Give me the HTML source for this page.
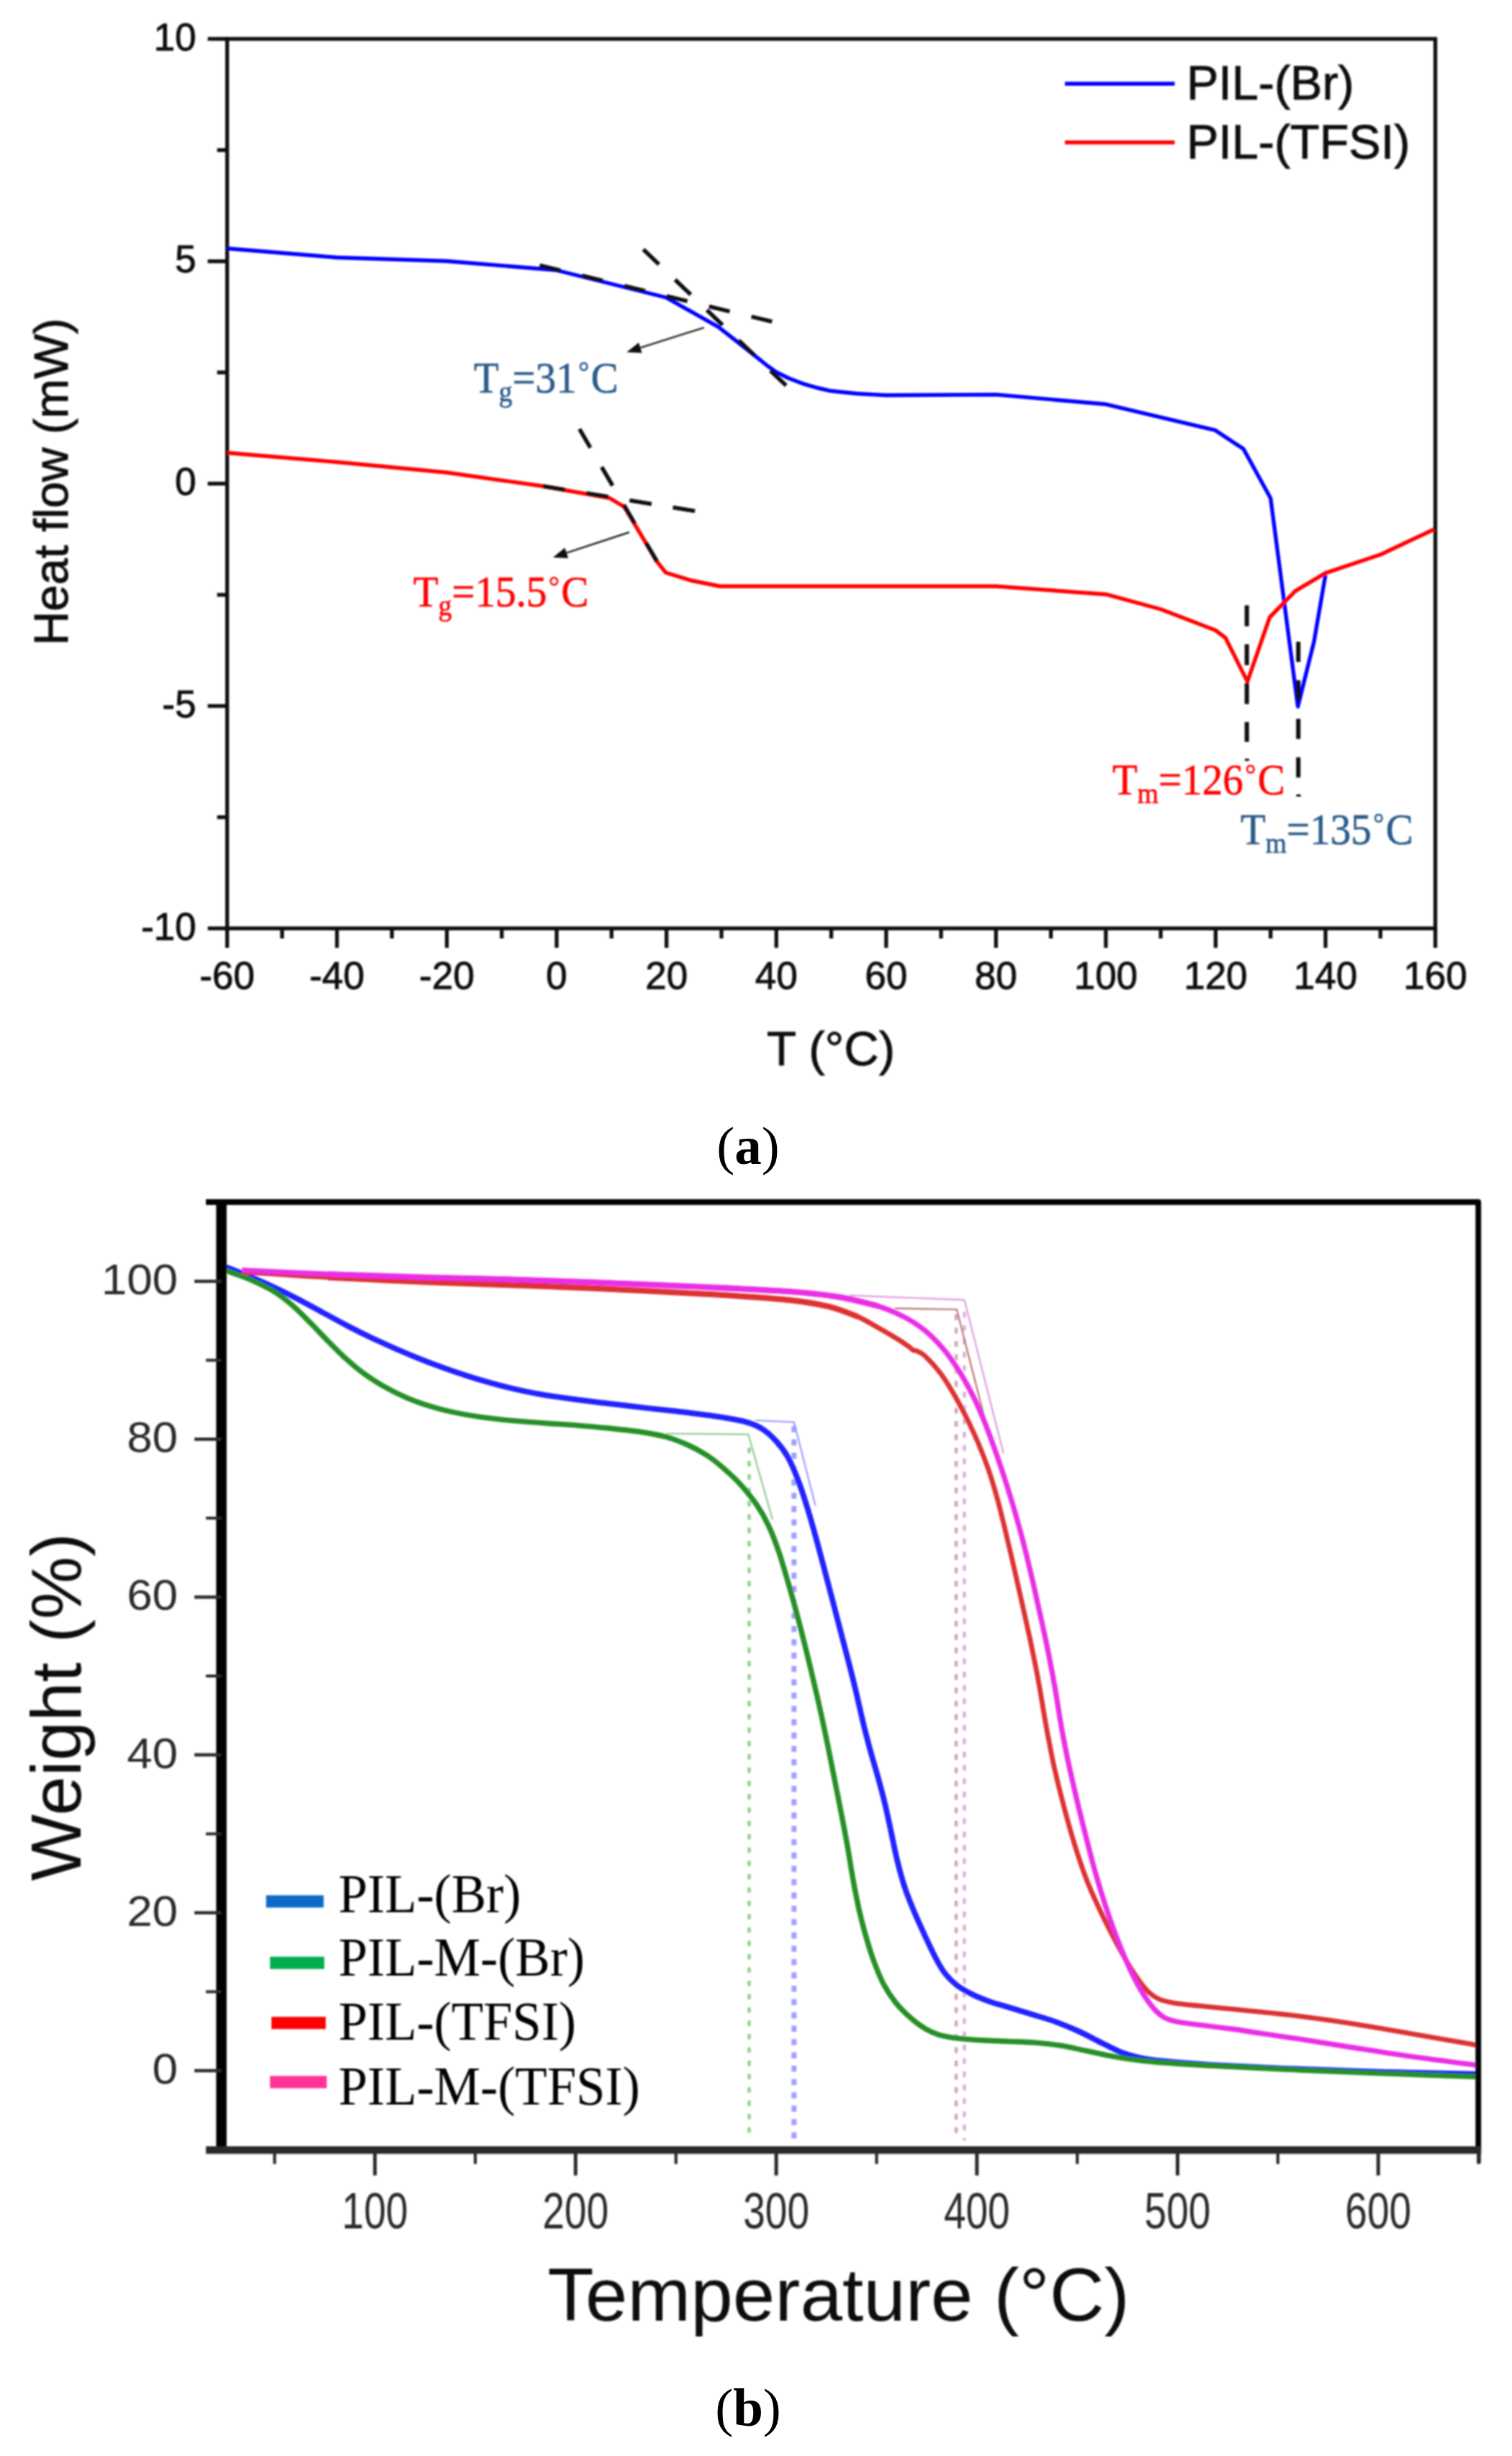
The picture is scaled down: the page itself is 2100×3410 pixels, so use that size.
<!DOCTYPE html>
<html lang="en"><head><meta charset="utf-8"><title>DSC and TGA curves</title>
<style>
html,body{margin:0;padding:0;background:#fff;}
body{width:2100px;height:3410px;overflow:hidden;}
svg{display:block;}
#chart-a text.s{stroke:#111;stroke-width:0.9px;}
</style></head><body>
<svg width="2100" height="3410" viewBox="0 0 2100 3410">
<rect x="0" y="0" width="2100" height="3410" fill="#fff"/>

<defs><filter id="softa" x="-2%" y="-2%" width="104%" height="104%"><feGaussianBlur stdDeviation="1.15"/></filter></defs>
<g id="chart-a" filter="url(#softa)">
<rect x="315.5" y="54" width="1678.0" height="1235" fill="none" stroke="#111" stroke-width="5.3"/>
<line x1="288.5" y1="1289.0" x2="315.5" y2="1289.0" stroke="#111" stroke-width="5.3"/>
<text x="272.5" y="1304.5" font-family="'Liberation Sans', Arial, sans-serif" font-size="53" fill="#111" text-anchor="end" class="s">-10</text>
<line x1="288.5" y1="980.2" x2="315.5" y2="980.2" stroke="#111" stroke-width="5.3"/>
<text x="272.5" y="995.8" font-family="'Liberation Sans', Arial, sans-serif" font-size="53" fill="#111" text-anchor="end" class="s">-5</text>
<line x1="288.5" y1="671.5" x2="315.5" y2="671.5" stroke="#111" stroke-width="5.3"/>
<text x="272.5" y="687.0" font-family="'Liberation Sans', Arial, sans-serif" font-size="53" fill="#111" text-anchor="end" class="s">0</text>
<line x1="288.5" y1="362.8" x2="315.5" y2="362.8" stroke="#111" stroke-width="5.3"/>
<text x="272.5" y="378.2" font-family="'Liberation Sans', Arial, sans-serif" font-size="53" fill="#111" text-anchor="end" class="s">5</text>
<line x1="288.5" y1="54.0" x2="315.5" y2="54.0" stroke="#111" stroke-width="5.3"/>
<text x="272.5" y="69.5" font-family="'Liberation Sans', Arial, sans-serif" font-size="53" fill="#111" text-anchor="end" class="s">10</text>
<line x1="301.5" y1="208.4" x2="315.5" y2="208.4" stroke="#111" stroke-width="5.3"/>
<line x1="301.5" y1="517.1" x2="315.5" y2="517.1" stroke="#111" stroke-width="5.3"/>
<line x1="301.5" y1="825.9" x2="315.5" y2="825.9" stroke="#111" stroke-width="5.3"/>
<line x1="301.5" y1="1134.6" x2="315.5" y2="1134.6" stroke="#111" stroke-width="5.3"/>
<line x1="315.5" y1="1289" x2="315.5" y2="1316" stroke="#111" stroke-width="5.3"/>
<text x="315.5" y="1373" font-family="'Liberation Sans', Arial, sans-serif" font-size="53" fill="#111" text-anchor="middle" class="s">-60</text>
<line x1="391.8" y1="1289" x2="391.8" y2="1303" stroke="#111" stroke-width="5.3"/>
<line x1="468.0" y1="1289" x2="468.0" y2="1316" stroke="#111" stroke-width="5.3"/>
<text x="468.0" y="1373" font-family="'Liberation Sans', Arial, sans-serif" font-size="53" fill="#111" text-anchor="middle" class="s">-40</text>
<line x1="544.3" y1="1289" x2="544.3" y2="1303" stroke="#111" stroke-width="5.3"/>
<line x1="620.6" y1="1289" x2="620.6" y2="1316" stroke="#111" stroke-width="5.3"/>
<text x="620.6" y="1373" font-family="'Liberation Sans', Arial, sans-serif" font-size="53" fill="#111" text-anchor="middle" class="s">-20</text>
<line x1="696.9" y1="1289" x2="696.9" y2="1303" stroke="#111" stroke-width="5.3"/>
<line x1="773.1" y1="1289" x2="773.1" y2="1316" stroke="#111" stroke-width="5.3"/>
<text x="773.1" y="1373" font-family="'Liberation Sans', Arial, sans-serif" font-size="53" fill="#111" text-anchor="middle" class="s">0</text>
<line x1="849.4" y1="1289" x2="849.4" y2="1303" stroke="#111" stroke-width="5.3"/>
<line x1="925.7" y1="1289" x2="925.7" y2="1316" stroke="#111" stroke-width="5.3"/>
<text x="925.7" y="1373" font-family="'Liberation Sans', Arial, sans-serif" font-size="53" fill="#111" text-anchor="middle" class="s">20</text>
<line x1="1002.0" y1="1289" x2="1002.0" y2="1303" stroke="#111" stroke-width="5.3"/>
<line x1="1078.2" y1="1289" x2="1078.2" y2="1316" stroke="#111" stroke-width="5.3"/>
<text x="1078.2" y="1373" font-family="'Liberation Sans', Arial, sans-serif" font-size="53" fill="#111" text-anchor="middle" class="s">40</text>
<line x1="1154.5" y1="1289" x2="1154.5" y2="1303" stroke="#111" stroke-width="5.3"/>
<line x1="1230.8" y1="1289" x2="1230.8" y2="1316" stroke="#111" stroke-width="5.3"/>
<text x="1230.8" y="1373" font-family="'Liberation Sans', Arial, sans-serif" font-size="53" fill="#111" text-anchor="middle" class="s">60</text>
<line x1="1307.0" y1="1289" x2="1307.0" y2="1303" stroke="#111" stroke-width="5.3"/>
<line x1="1383.3" y1="1289" x2="1383.3" y2="1316" stroke="#111" stroke-width="5.3"/>
<text x="1383.3" y="1373" font-family="'Liberation Sans', Arial, sans-serif" font-size="53" fill="#111" text-anchor="middle" class="s">80</text>
<line x1="1459.6" y1="1289" x2="1459.6" y2="1303" stroke="#111" stroke-width="5.3"/>
<line x1="1535.9" y1="1289" x2="1535.9" y2="1316" stroke="#111" stroke-width="5.3"/>
<text x="1535.9" y="1373" font-family="'Liberation Sans', Arial, sans-serif" font-size="53" fill="#111" text-anchor="middle" class="s">100</text>
<line x1="1612.1" y1="1289" x2="1612.1" y2="1303" stroke="#111" stroke-width="5.3"/>
<line x1="1688.4" y1="1289" x2="1688.4" y2="1316" stroke="#111" stroke-width="5.3"/>
<text x="1688.4" y="1373" font-family="'Liberation Sans', Arial, sans-serif" font-size="53" fill="#111" text-anchor="middle" class="s">120</text>
<line x1="1764.7" y1="1289" x2="1764.7" y2="1303" stroke="#111" stroke-width="5.3"/>
<line x1="1841.0" y1="1289" x2="1841.0" y2="1316" stroke="#111" stroke-width="5.3"/>
<text x="1841.0" y="1373" font-family="'Liberation Sans', Arial, sans-serif" font-size="53" fill="#111" text-anchor="middle" class="s">140</text>
<line x1="1917.2" y1="1289" x2="1917.2" y2="1303" stroke="#111" stroke-width="5.3"/>
<line x1="1993.5" y1="1289" x2="1993.5" y2="1316" stroke="#111" stroke-width="5.3"/>
<text x="1993.5" y="1373" font-family="'Liberation Sans', Arial, sans-serif" font-size="53" fill="#111" text-anchor="middle" class="s">160</text>
<text x="0" y="0" font-family="'Liberation Sans', Arial, sans-serif" font-size="66" fill="#111" text-anchor="middle" class="s" transform="translate(94,669) rotate(-90)">Heat flow (mW)</text>
<text x="1154" y="1479" font-family="'Liberation Sans', Arial, sans-serif" font-size="67" fill="#111" text-anchor="middle" class="s">T (°C)</text>
<polyline points="316.0,345.0 467.6,357.5 620.0,362.5 772.0,375.0 925.0,413.0 997.6,453.8 1040.0,487.0 1066.0,508.0 1077.8,516.4 1095.0,525.0 1114.8,532.6 1135.0,538.5 1154.0,542.8 1190.0,546.5 1230.6,548.8 1383.3,547.9 1536.0,561.3 1688.0,597.4 1727.0,623.3 1764.7,691.7 1802.6,981.0 1825.0,890.9 1840.9,798.4" fill="none" stroke="#0000ff" stroke-width="5.4" stroke-linejoin="round" stroke-linecap="butt" />
<polyline points="316.0,628.7 467.6,641.5 620.0,656.0 754.0,675.0 847.0,691.7 867.0,703.7 912.7,780.0 924.6,795.0 960.0,806.0 1000.0,814.0 1154.0,814.0 1383.3,814.0 1536.0,825.2 1612.5,846.0 1688.0,875.0 1702.0,885.5 1732.5,946.4 1763.5,857.0 1799.0,820.6 1840.9,795.6 1918.0,769.8 1991.7,735.0" fill="none" stroke="#ff0000" stroke-width="5.4" stroke-linejoin="round" stroke-linecap="butt" />
<line x1="749.6" y1="368.5" x2="1074" y2="447" stroke="#0a0a0a" stroke-width="5.6" stroke-dasharray="29.5 31"/>
<line x1="893.5" y1="346.3" x2="1092" y2="535.5" stroke="#0a0a0a" stroke-width="5.6" stroke-dasharray="30 31"/>
<line x1="754" y1="675" x2="968" y2="710" stroke="#0a0a0a" stroke-width="5.6" stroke-dasharray="31 30"/>
<line x1="804.8" y1="595.7" x2="912.7" y2="780" stroke="#0a0a0a" stroke-width="5.6" stroke-dasharray="30 31"/>
<line x1="1731.7" y1="840.5" x2="1731.7" y2="1030" stroke="#0a0a0a" stroke-width="6" stroke-dasharray="29 25"/>
<rect x="1729" y="1053.5" width="6" height="3" fill="#0a0a0a"/>
<line x1="1803.2" y1="891" x2="1803.2" y2="1080" stroke="#0a0a0a" stroke-width="6" stroke-dasharray="28 25.5"/>
<rect x="1800.5" y="1103" width="6" height="3" fill="#0a0a0a"/>
<line x1="977.8" y1="454.8" x2="889.4" y2="482.9" stroke="#222" stroke-width="2.4"/><polygon points="870.3,489.0 887.1,475.8 891.6,490.1" fill="#111"/>
<line x1="874" y1="739" x2="787.0" y2="767.7" stroke="#222" stroke-width="2.4"/><polygon points="768.0,774.0 784.6,760.6 789.3,774.9" fill="#111"/>
<text transform="translate(658,544.5) scale(1,1.08)" font-family="'Liberation Serif', 'Times New Roman', serif" font-size="57" fill="#2c5a8a" stroke="#2c5a8a" stroke-width="0.6">T<tspan font-size="37.6" dy="11.4">g</tspan><tspan dy="-11.4">=31</tspan><tspan font-size="37.6" dx="2.5" dy="-13.4">°</tspan><tspan dx="2.5" dy="13.4">C</tspan></text>
<text transform="translate(574,842) scale(1,1.08)" font-family="'Liberation Serif', 'Times New Roman', serif" font-size="57" fill="#ff0000" stroke="#ff0000" stroke-width="0.6">T<tspan font-size="37.6" dy="11.4">g</tspan><tspan dy="-11.4">=15.5</tspan><tspan font-size="37.6" dx="2.5" dy="-13.4">°</tspan><tspan dx="2.5" dy="13.4">C</tspan></text>
<text transform="translate(1545,1103) scale(1,1.08)" font-family="'Liberation Serif', 'Times New Roman', serif" font-size="57" fill="#ff0000" stroke="#ff0000" stroke-width="0.6">T<tspan font-size="37.6" dy="11.4">m</tspan><tspan dy="-11.4">=126</tspan><tspan font-size="37.6" dx="2.5" dy="-13.4">°</tspan><tspan dx="2.5" dy="13.4">C</tspan></text>
<text transform="translate(1723,1171.5) scale(1,1.08)" font-family="'Liberation Serif', 'Times New Roman', serif" font-size="57" fill="#2c5a8a" stroke="#2c5a8a" stroke-width="0.6">T<tspan font-size="37.6" dy="11.4">m</tspan><tspan dy="-11.4">=135</tspan><tspan font-size="37.6" dx="2.5" dy="-13.4">°</tspan><tspan dx="2.5" dy="13.4">C</tspan></text>
<line x1="1479" y1="116.3" x2="1631.5" y2="116.3" stroke="#0000ff" stroke-width="5.5"/>
<line x1="1479" y1="197.8" x2="1631.5" y2="197.8" stroke="#ff0000" stroke-width="5.5"/>
<text x="1648" y="138" font-family="'Liberation Sans', Arial, sans-serif" font-size="66.5" fill="#111" text-anchor="start" class="s">PIL-(Br)</text>
<text x="1648" y="219.5" font-family="'Liberation Sans', Arial, sans-serif" font-size="66.5" fill="#111" text-anchor="start" class="s">PIL-(TFSI)</text>
</g>
<text x="1039" y="1615.5" font-family="'Liberation Serif', 'Times New Roman', serif" font-size="75" fill="#000" text-anchor="middle">(<tspan font-weight="bold">a</tspan>)</text>
<defs><filter id="soft" x="-2%" y="-2%" width="104%" height="104%"><feGaussianBlur stdDeviation="1.3"/></filter></defs>
<g id="chart-b" filter="url(#soft)">
<line x1="1040.5" y1="2010" x2="1040.5" y2="2972" stroke="#8fd08f" stroke-width="4.5" stroke-dasharray="7.5 11"/>
<line x1="1102.8" y1="1980" x2="1102.8" y2="2972" stroke="#a0a0ff" stroke-width="7" stroke-dasharray="8.5 10"/>
<line x1="1328" y1="1825" x2="1328" y2="2972" stroke="#cfa8b8" stroke-width="4.5" stroke-dasharray="8 10.5"/>
<line x1="1339.4" y1="1812" x2="1339.4" y2="2972" stroke="#dbb0db" stroke-width="4.5" stroke-dasharray="8 10.5" stroke-dashoffset="9"/>
<polyline points="925.0,1990.5 1039.3,1991.5 1073.0,2110.0" fill="none" stroke="#8cc88c" stroke-width="2.2" stroke-linejoin="round" stroke-linecap="butt" />
<polyline points="1049.0,1972.0 1102.8,1974.6 1132.5,2090.5" fill="none" stroke="#9a9aff" stroke-width="2.2" stroke-linejoin="round" stroke-linecap="butt" />
<polyline points="1179.4,1798.7 1339.4,1804.8 1393.7,2017.8" fill="none" stroke="#dd99dd" stroke-width="2.2" stroke-linejoin="round" stroke-linecap="butt" />
<polyline points="1242.9,1816.7 1328.8,1818.0 1369.8,1978.0" fill="none" stroke="#b87070" stroke-width="2.2" stroke-linejoin="round" stroke-linecap="butt" />
<path d="M312.0,1758.5 C313.5,1759.1 315.0,1759.7 321.3,1762.2 C327.5,1764.7 339.0,1769.0 349.3,1773.3 C359.5,1777.7 371.6,1783.0 382.7,1788.2 C393.8,1793.5 404.7,1799.0 415.7,1804.7 C426.7,1810.5 437.8,1816.6 448.8,1822.6 C459.8,1828.6 470.9,1834.7 481.9,1840.5 C492.9,1846.2 504.0,1851.7 515.0,1857.0 C526.0,1862.2 537.0,1867.2 548.0,1872.0 C559.0,1876.8 570.0,1881.4 581.0,1885.8 C592.0,1890.2 603.0,1894.4 614.0,1898.4 C625.0,1902.4 636.0,1906.2 647.1,1909.7 C658.1,1913.3 669.2,1916.6 680.3,1919.7 C691.3,1922.8 701.7,1925.5 713.4,1928.2 C725.1,1930.9 736.7,1933.4 750.5,1935.8 C764.4,1938.2 781.4,1940.6 796.4,1942.6 C811.4,1944.7 824.1,1946.2 840.4,1948.2 C856.7,1950.2 875.6,1952.3 894.1,1954.5 C912.7,1956.6 933.1,1958.6 951.8,1960.9 C970.5,1963.3 991.9,1966.0 1006.4,1968.4 C1020.9,1970.7 1030.0,1972.4 1039.0,1975.2 C1048.0,1977.9 1053.7,1980.6 1060.2,1984.9 C1066.7,1989.2 1072.3,1994.5 1078.0,2000.9 C1083.7,2007.2 1089.3,2014.3 1094.3,2023.2 C1099.3,2032.1 1103.7,2042.7 1108.2,2054.5 C1112.8,2066.3 1117.1,2079.8 1121.5,2094.2 C1125.9,2108.5 1130.4,2124.6 1134.8,2140.6 C1139.2,2156.7 1143.6,2173.8 1148.0,2190.4 C1152.4,2207.1 1156.8,2224.0 1161.2,2240.7 C1165.5,2257.5 1169.9,2273.9 1174.3,2290.9 C1178.7,2308.0 1183.3,2325.4 1187.5,2342.8 C1191.7,2360.2 1195.9,2379.9 1199.6,2395.1 C1203.3,2410.3 1206.4,2421.9 1209.7,2433.8 C1213.0,2445.8 1216.0,2455.2 1219.2,2466.6 C1222.3,2478.0 1225.5,2489.5 1228.5,2502.1 C1231.6,2514.7 1234.5,2528.9 1237.4,2542.3 C1240.3,2555.7 1242.8,2569.5 1246.0,2582.5 C1249.2,2595.5 1252.6,2608.5 1256.6,2620.5 C1260.5,2632.5 1265.1,2643.3 1269.8,2654.5 C1274.4,2665.6 1279.8,2677.0 1284.5,2687.3 C1289.3,2697.7 1293.8,2707.7 1298.4,2716.4 C1303.0,2725.1 1307.0,2732.8 1312.1,2739.5 C1317.3,2746.2 1322.5,2751.4 1329.1,2756.5 C1335.7,2761.5 1343.9,2765.9 1351.8,2769.8 C1359.8,2773.7 1368.6,2777.0 1376.9,2779.9 C1385.3,2782.8 1392.7,2784.5 1401.9,2787.3 C1411.1,2790.0 1421.5,2793.2 1432.2,2796.5 C1442.9,2799.8 1454.8,2803.0 1466.0,2807.1 C1477.3,2811.2 1489.1,2816.1 1500.0,2821.1 C1510.8,2826.1 1521.6,2832.3 1531.2,2837.0 C1540.8,2841.7 1549.2,2846.3 1557.7,2849.6 C1566.1,2852.8 1572.3,2854.7 1582.0,2856.7 C1591.7,2858.7 1599.3,2860.0 1615.9,2861.7 C1632.4,2863.4 1650.8,2865.1 1681.1,2866.9 C1711.4,2868.7 1757.1,2870.9 1797.7,2872.5 C1838.3,2874.2 1882.4,2875.5 1924.6,2876.8 C1966.8,2878.0 2029.9,2879.3 2051.0,2879.8" fill="none" stroke="#2222ff" stroke-width="7.8" stroke-linejoin="round" stroke-linecap="butt" />
<path d="M312.0,1763.5 C313.5,1764.0 315.0,1764.5 321.3,1766.8 C327.5,1769.1 339.4,1772.9 349.3,1777.3 C359.2,1781.7 371.2,1787.2 380.7,1793.1 C390.2,1799.0 398.0,1805.3 406.5,1812.7 C415.0,1820.0 423.5,1828.9 431.6,1837.2 C439.8,1845.4 447.6,1854.0 455.4,1862.0 C463.2,1869.9 470.6,1877.5 478.6,1884.8 C486.5,1892.0 494.1,1898.7 503.0,1905.3 C512.0,1911.9 521.9,1918.5 532.2,1924.4 C542.4,1930.3 553.7,1935.9 564.6,1940.6 C575.5,1945.3 586.6,1949.1 597.6,1952.5 C608.6,1955.9 619.1,1958.6 630.7,1961.0 C642.3,1963.5 653.3,1965.4 667.1,1967.3 C680.9,1969.3 697.8,1971.1 713.4,1972.6 C729.0,1974.0 746.1,1975.1 760.5,1976.2 C774.9,1977.2 786.4,1977.8 799.7,1978.9 C813.1,1980.0 825.5,1981.0 840.4,1982.5 C855.3,1984.1 875.0,1985.9 889.1,1988.0 C903.2,1990.1 914.0,1992.0 925.0,1995.0 C935.9,1998.0 945.3,2001.8 954.8,2006.0 C964.2,2010.2 973.8,2015.4 981.7,2020.5 C989.6,2025.5 994.7,2029.8 1002.2,2036.2 C1009.7,2042.6 1018.4,2050.2 1026.5,2059.0 C1034.6,2067.8 1043.9,2079.0 1050.9,2089.2 C1057.8,2099.4 1063.1,2109.0 1068.3,2120.1 C1073.5,2131.1 1077.5,2142.4 1082.0,2155.5 C1086.4,2168.7 1090.7,2183.7 1095.1,2198.9 C1099.5,2214.2 1104.0,2230.3 1108.4,2247.1 C1112.9,2263.8 1117.4,2281.9 1121.7,2299.5 C1126.0,2317.1 1130.4,2335.5 1134.3,2352.5 C1138.2,2369.5 1141.6,2384.8 1145.1,2401.5 C1148.7,2418.2 1152.1,2435.6 1155.6,2453.0 C1159.0,2470.3 1162.6,2488.2 1166.1,2505.8 C1169.5,2523.4 1173.1,2541.5 1176.2,2558.7 C1179.3,2575.9 1181.9,2593.5 1184.7,2609.0 C1187.5,2624.4 1190.0,2637.8 1193.1,2651.3 C1196.2,2664.8 1199.5,2677.7 1203.1,2689.9 C1206.6,2702.2 1210.2,2713.9 1214.3,2724.8 C1218.4,2735.8 1222.6,2746.2 1227.5,2755.5 C1232.5,2764.7 1237.9,2772.8 1243.9,2780.4 C1250.0,2788.0 1257.2,2795.0 1264.0,2801.0 C1270.7,2807.0 1277.8,2812.4 1284.5,2816.4 C1291.2,2820.4 1296.9,2822.9 1304.2,2825.2 C1311.5,2827.4 1318.7,2828.5 1328.6,2829.8 C1338.5,2831.1 1351.7,2832.1 1363.7,2832.8 C1375.8,2833.6 1388.4,2833.8 1400.9,2834.4 C1413.3,2834.9 1426.5,2835.1 1438.6,2836.1 C1450.7,2837.1 1462.0,2838.4 1473.5,2840.2 C1485.0,2842.1 1495.4,2844.7 1507.4,2847.2 C1519.4,2849.7 1532.1,2852.7 1545.5,2855.1 C1558.8,2857.4 1571.4,2859.5 1587.7,2861.3 C1604.0,2863.1 1621.6,2864.4 1643.3,2865.8 C1665.0,2867.3 1691.8,2868.4 1718.1,2869.8 C1744.4,2871.1 1770.4,2872.5 1801.3,2873.9 C1832.2,2875.3 1862.0,2876.5 1903.6,2878.1 C1945.2,2879.7 2026.4,2882.6 2051.0,2883.5" fill="none" stroke="#258f25" stroke-width="7.4" stroke-linejoin="round" stroke-linecap="butt" />
<path d="M457.2,1773.7 C479.3,1774.7 549.5,1778.2 590.0,1779.9 C630.5,1781.6 661.7,1782.5 700.0,1783.9 C738.3,1785.3 773.3,1786.4 820.0,1788.5 C866.7,1790.6 934.9,1794.0 980.0,1796.7 C1025.1,1799.4 1062.2,1801.6 1090.6,1804.5 C1119.0,1807.3 1133.8,1810.1 1150.3,1813.9 C1166.9,1817.8 1183.4,1825.3 1190.0,1827.5" fill="none" stroke="#e62030" stroke-width="8" stroke-linejoin="round" stroke-linecap="round" />
<path d="M336.0,1766.0 C356.2,1767.3 437.0,1772.4 457.2,1773.7" fill="none" stroke="#e62030" stroke-width="4" stroke-linejoin="round" stroke-linecap="butt" />
<path d="M336.0,1766.0 C356.2,1767.3 414.9,1771.4 457.2,1773.7 C499.5,1776.0 549.5,1778.2 590.0,1779.9 C630.5,1781.6 661.7,1782.5 700.0,1783.9 C738.3,1785.3 773.3,1786.4 820.0,1788.5 C866.7,1790.6 934.9,1794.0 980.0,1796.7 C1025.1,1799.4 1062.2,1801.6 1090.6,1804.5 C1119.0,1807.3 1133.8,1810.1 1150.3,1813.9 C1166.9,1817.8 1178.5,1822.7 1190.0,1827.5 C1201.4,1832.4 1209.7,1837.8 1219.0,1843.0 C1228.3,1848.2 1238.3,1854.1 1245.5,1858.5 C1252.7,1862.9 1258.2,1866.8 1262.0,1869.5 C1265.8,1872.2 1266.0,1873.4 1268.0,1874.5 C1270.0,1875.6 1271.2,1874.6 1274.0,1876.0 C1276.8,1877.4 1279.6,1877.8 1285.0,1882.9 C1290.4,1888.0 1299.3,1897.3 1306.3,1906.7 C1313.3,1916.1 1320.6,1928.4 1327.0,1939.5 C1333.3,1950.5 1339.4,1962.3 1344.6,1972.9 C1349.8,1983.5 1353.7,1991.9 1358.4,2003.0 C1363.0,2014.2 1368.1,2026.6 1372.6,2039.7 C1377.1,2052.8 1381.2,2066.5 1385.3,2081.4 C1389.4,2096.3 1393.3,2112.8 1397.2,2129.0 C1401.1,2145.2 1405.0,2162.0 1408.8,2178.6 C1412.6,2195.1 1416.3,2211.5 1420.0,2228.1 C1423.7,2244.6 1427.3,2260.4 1431.0,2277.8 C1434.6,2295.1 1438.3,2312.3 1441.9,2332.0 C1445.6,2351.7 1449.2,2375.9 1452.9,2396.1 C1456.6,2416.2 1460.0,2434.7 1464.0,2453.0 C1468.1,2471.2 1472.3,2488.2 1477.0,2505.8 C1481.6,2523.4 1486.5,2541.5 1491.8,2558.7 C1497.1,2575.9 1502.9,2593.6 1508.8,2609.0 C1514.6,2624.3 1520.9,2637.6 1527.0,2650.8 C1533.1,2663.9 1539.3,2676.0 1545.5,2687.9 C1551.7,2699.7 1558.0,2711.5 1564.0,2721.7 C1570.0,2732.0 1576.2,2741.8 1581.5,2749.2 C1586.8,2756.7 1591.1,2761.9 1595.8,2766.2 C1600.5,2770.6 1603.9,2773.0 1609.5,2775.5 C1615.2,2777.9 1620.0,2779.2 1629.7,2780.8 C1639.3,2782.4 1653.3,2783.7 1667.2,2785.2 C1681.2,2786.7 1699.0,2788.3 1713.4,2789.7 C1727.8,2791.2 1738.5,2792.1 1753.5,2793.7 C1768.5,2795.2 1783.6,2796.7 1803.1,2799.1 C1822.7,2801.6 1845.2,2804.5 1871.0,2808.6 C1896.9,2812.6 1928.1,2818.1 1958.1,2823.3 C1988.1,2828.4 2035.5,2836.8 2051.0,2839.5" fill="none" stroke="#dd3330" stroke-width="6.8" stroke-linejoin="round" stroke-linecap="butt" />
<path d="M457.2,1769.2 C479.3,1769.9 549.5,1772.3 590.0,1773.5 C630.5,1774.7 661.7,1775.1 700.0,1776.2 C738.3,1777.3 773.3,1778.4 820.0,1780.2 C866.7,1782.0 934.5,1785.0 980.0,1787.1 C1025.5,1789.2 1062.6,1790.8 1093.2,1793.0 C1123.8,1795.2 1142.9,1797.2 1163.4,1800.5 C1183.9,1803.7 1207.5,1810.5 1216.3,1812.5" fill="none" stroke="#f01fd8" stroke-width="8" stroke-linejoin="round" stroke-linecap="round" />
<path d="M336.0,1763.5 C356.2,1764.5 437.0,1768.2 457.2,1769.2" fill="none" stroke="#f01fd8" stroke-width="4" stroke-linejoin="round" stroke-linecap="butt" />
<path d="M336.0,1763.5 C356.2,1764.5 414.9,1767.5 457.2,1769.2 C499.5,1770.9 549.5,1772.3 590.0,1773.5 C630.5,1774.7 661.7,1775.1 700.0,1776.2 C738.3,1777.3 773.3,1778.4 820.0,1780.2 C866.7,1782.0 934.5,1785.0 980.0,1787.1 C1025.5,1789.2 1062.6,1790.8 1093.2,1793.0 C1123.8,1795.2 1142.9,1797.2 1163.4,1800.5 C1183.9,1803.7 1200.9,1807.8 1216.3,1812.5 C1231.8,1817.1 1244.6,1822.7 1256.0,1828.6 C1267.5,1834.5 1276.0,1840.2 1285.1,1847.7 C1294.1,1855.1 1302.7,1863.9 1310.5,1873.3 C1318.4,1882.7 1325.6,1893.5 1332.3,1904.0 C1338.9,1914.5 1345.0,1925.4 1350.5,1936.3 C1356.1,1947.1 1360.8,1958.2 1365.3,1969.2 C1369.9,1980.1 1373.5,1989.9 1377.9,2001.9 C1382.3,2014.0 1386.9,2027.1 1391.7,2041.7 C1396.5,2056.2 1401.8,2073.1 1406.7,2089.3 C1411.5,2105.5 1416.2,2122.4 1420.6,2138.9 C1424.9,2155.4 1428.8,2172.0 1432.7,2188.5 C1436.6,2205.0 1440.2,2221.5 1443.8,2238.0 C1447.5,2254.6 1451.1,2270.7 1454.6,2287.7 C1458.0,2304.7 1461.4,2322.0 1464.6,2339.9 C1467.8,2357.9 1470.7,2378.3 1473.7,2395.4 C1476.8,2412.5 1479.4,2426.1 1482.8,2442.3 C1486.2,2458.5 1490.1,2475.4 1494.1,2492.6 C1498.2,2509.8 1502.6,2528.0 1507.1,2545.5 C1511.5,2563.0 1515.9,2580.7 1520.6,2597.3 C1525.3,2614.0 1530.1,2629.9 1535.2,2645.5 C1540.3,2661.1 1545.6,2676.3 1551.3,2691.0 C1557.0,2705.7 1563.3,2721.1 1569.3,2733.9 C1575.3,2746.7 1581.6,2758.5 1587.3,2767.7 C1592.9,2777.0 1598.1,2783.9 1603.2,2789.5 C1608.2,2795.1 1612.0,2798.4 1617.4,2801.3 C1622.9,2804.3 1627.4,2805.5 1636.0,2807.2 C1644.5,2809.0 1655.9,2810.1 1668.8,2811.8 C1681.7,2813.5 1699.3,2815.5 1713.4,2817.4 C1727.5,2819.4 1738.5,2821.3 1753.5,2823.5 C1768.5,2825.7 1783.6,2827.8 1803.1,2830.8 C1822.7,2833.8 1845.2,2837.5 1871.0,2841.6 C1896.9,2845.6 1928.1,2850.7 1958.1,2855.0 C1988.1,2859.3 2035.5,2865.3 2051.0,2867.3" fill="none" stroke="#ea2ee6" stroke-width="7.2" stroke-linejoin="round" stroke-linecap="butt" />
<polyline points="286,1669 2053.2,1669 2053.2,2985.3" fill="none" stroke="#000" stroke-width="7.8" stroke-linejoin="round"/>
<line x1="2054.0" y1="2985.3" x2="2054.0" y2="3003.5" stroke="#222" stroke-width="5.5"/>
<line x1="307.5" y1="1665" x2="307.5" y2="2988.3" stroke="#000" stroke-width="14.5"/>
<line x1="286" y1="2985.3" x2="2057.2" y2="2985.3" stroke="#2b2b2b" stroke-width="10.5"/>
<rect x="297" y="1777" width="5" height="4" fill="#e030d0"/>
<line x1="270" y1="2875.0" x2="307.5" y2="2875.0" stroke="#2a2a2a" stroke-width="4.5"/>
<text transform="translate(247,2893.0) scale(1.08,1)" font-family="'Liberation Sans', Arial, sans-serif" font-size="59" fill="#2a2a2a" text-anchor="end">0</text>
<line x1="286" y1="2765.4" x2="307.5" y2="2765.4" stroke="#2a2a2a" stroke-width="4"/>
<line x1="270" y1="2655.8" x2="307.5" y2="2655.8" stroke="#2a2a2a" stroke-width="4.5"/>
<text transform="translate(247,2673.8) scale(1.08,1)" font-family="'Liberation Sans', Arial, sans-serif" font-size="59" fill="#2a2a2a" text-anchor="end">20</text>
<line x1="286" y1="2546.2" x2="307.5" y2="2546.2" stroke="#2a2a2a" stroke-width="4"/>
<line x1="270" y1="2436.6" x2="307.5" y2="2436.6" stroke="#2a2a2a" stroke-width="4.5"/>
<text transform="translate(247,2454.6) scale(1.08,1)" font-family="'Liberation Sans', Arial, sans-serif" font-size="59" fill="#2a2a2a" text-anchor="end">40</text>
<line x1="286" y1="2327.0" x2="307.5" y2="2327.0" stroke="#2a2a2a" stroke-width="4"/>
<line x1="270" y1="2217.4" x2="307.5" y2="2217.4" stroke="#2a2a2a" stroke-width="4.5"/>
<text transform="translate(247,2235.4) scale(1.08,1)" font-family="'Liberation Sans', Arial, sans-serif" font-size="59" fill="#2a2a2a" text-anchor="end">60</text>
<line x1="286" y1="2107.8" x2="307.5" y2="2107.8" stroke="#2a2a2a" stroke-width="4"/>
<line x1="270" y1="1998.2" x2="307.5" y2="1998.2" stroke="#2a2a2a" stroke-width="4.5"/>
<text transform="translate(247,2016.2) scale(1.08,1)" font-family="'Liberation Sans', Arial, sans-serif" font-size="59" fill="#2a2a2a" text-anchor="end">80</text>
<line x1="286" y1="1888.6" x2="307.5" y2="1888.6" stroke="#2a2a2a" stroke-width="4"/>
<line x1="270" y1="1779.0" x2="307.5" y2="1779.0" stroke="#2a2a2a" stroke-width="4.5"/>
<text transform="translate(247,1797.0) scale(1.08,1)" font-family="'Liberation Sans', Arial, sans-serif" font-size="59" fill="#2a2a2a" text-anchor="end">100</text>
<line x1="381.4" y1="2985.3" x2="381.4" y2="3004.5" stroke="#2a2a2a" stroke-width="4.2"/>
<line x1="520.7" y1="2985.3" x2="520.7" y2="3020.5" stroke="#2a2a2a" stroke-width="5"/>
<text transform="translate(520.7,3093.5) scale(0.775,1)" font-family="'Liberation Sans', Arial, sans-serif" font-size="71" fill="#2a2a2a" text-anchor="middle">100</text>
<line x1="660.1" y1="2985.3" x2="660.1" y2="3004.5" stroke="#2a2a2a" stroke-width="4.2"/>
<line x1="799.4" y1="2985.3" x2="799.4" y2="3020.5" stroke="#2a2a2a" stroke-width="5"/>
<text transform="translate(799.4,3093.5) scale(0.775,1)" font-family="'Liberation Sans', Arial, sans-serif" font-size="71" fill="#2a2a2a" text-anchor="middle">200</text>
<line x1="938.8" y1="2985.3" x2="938.8" y2="3004.5" stroke="#2a2a2a" stroke-width="4.2"/>
<line x1="1078.1" y1="2985.3" x2="1078.1" y2="3020.5" stroke="#2a2a2a" stroke-width="5"/>
<text transform="translate(1078.1,3093.5) scale(0.775,1)" font-family="'Liberation Sans', Arial, sans-serif" font-size="71" fill="#2a2a2a" text-anchor="middle">300</text>
<line x1="1217.5" y1="2985.3" x2="1217.5" y2="3004.5" stroke="#2a2a2a" stroke-width="4.2"/>
<line x1="1356.8" y1="2985.3" x2="1356.8" y2="3020.5" stroke="#2a2a2a" stroke-width="5"/>
<text transform="translate(1356.8,3093.5) scale(0.775,1)" font-family="'Liberation Sans', Arial, sans-serif" font-size="71" fill="#2a2a2a" text-anchor="middle">400</text>
<line x1="1496.2" y1="2985.3" x2="1496.2" y2="3004.5" stroke="#2a2a2a" stroke-width="4.2"/>
<line x1="1635.5" y1="2985.3" x2="1635.5" y2="3020.5" stroke="#2a2a2a" stroke-width="5"/>
<text transform="translate(1635.5,3093.5) scale(0.775,1)" font-family="'Liberation Sans', Arial, sans-serif" font-size="71" fill="#2a2a2a" text-anchor="middle">500</text>
<line x1="1774.8" y1="2985.3" x2="1774.8" y2="3004.5" stroke="#2a2a2a" stroke-width="4.2"/>
<line x1="1914.2" y1="2985.3" x2="1914.2" y2="3020.5" stroke="#2a2a2a" stroke-width="5"/>
<text transform="translate(1914.2,3093.5) scale(0.775,1)" font-family="'Liberation Sans', Arial, sans-serif" font-size="71" fill="#2a2a2a" text-anchor="middle">600</text>
<line x1="2053.6" y1="2985.3" x2="2053.6" y2="3004.5" stroke="#2a2a2a" stroke-width="4.2"/>
<text x="0" y="0" font-family="'Liberation Sans', Arial, sans-serif" font-size="98" fill="#111" text-anchor="middle" transform="translate(112,2370) rotate(-90)">Weight (%)</text>
<text transform="translate(1164.6,3222) scale(1.022,1)" font-family="'Liberation Sans', Arial, sans-serif" font-size="103" fill="#111" text-anchor="middle">Temperature (°C)</text>
<rect x="369.6" y="2631.5" width="79.9" height="17" fill="#0a6ac8"/>
<rect x="375" y="2716.8" width="75.4" height="17" fill="#00b050"/>
<rect x="377" y="2800.2" width="75.5" height="17" fill="#ff0000"/>
<rect x="375" y="2882.3" width="78.8" height="17" fill="#ff3399"/>
<text transform="translate(470,2655) scale(1,1.04)" font-family="'Liberation Serif', 'Times New Roman', serif" font-size="72.5" fill="#000">PIL-(Br)</text>
<text transform="translate(470,2743.4) scale(1,1.04)" font-family="'Liberation Serif', 'Times New Roman', serif" font-size="72.5" fill="#000">PIL-M-(Br)</text>
<text transform="translate(470,2831.5) scale(1,1.04)" font-family="'Liberation Serif', 'Times New Roman', serif" font-size="72.5" fill="#000">PIL-(TFSI)</text>
<text transform="translate(470,2921.8) scale(1,1.04)" font-family="'Liberation Serif', 'Times New Roman', serif" font-size="72.5" fill="#000">PIL-M-(TFSI)</text>
</g>
<text x="1039" y="3368" font-family="'Liberation Serif', 'Times New Roman', serif" font-size="75" fill="#000" text-anchor="middle">(<tspan font-weight="bold">b</tspan>)</text>
</svg>
</body></html>
